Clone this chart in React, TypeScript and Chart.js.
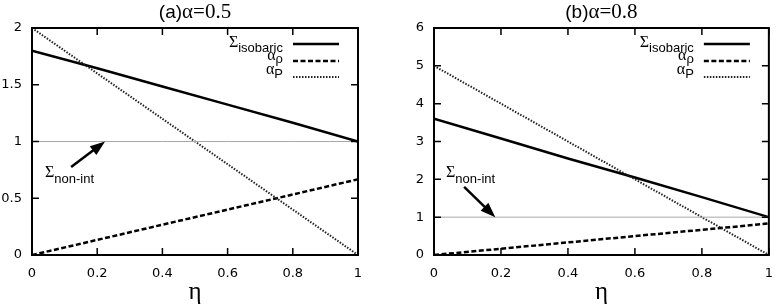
import React, { useEffect, useRef } from 'react';
import { Chart, registerables } from 'chart.js';

Chart.register(...registerables);

// ---- data ----
const eta = [0, 0.2, 0.4, 0.6, 0.8, 1];

const sigmaIsobaricA = [1.8, 1.645, 1.485, 1.325, 1.165, 1.0];
const alphaRhoA = [0, 0.133, 0.267, 0.4, 0.533, 0.667];
const alphaPA = [2, 1.6, 1.2, 0.8, 0.4, 0];
const nonIntA = [1, 1, 1, 1, 1, 1];

const sigmaIsobaricB = [3.6, 3.08, 2.55, 2.05, 1.53, 1.0];
const alphaRhoB = [0, 0.166, 0.333, 0.5, 0.666, 0.833];
const alphaPB = [5, 4, 3, 2, 1, 0];
const nonIntB = [1, 1, 1, 1, 1, 1];

const xTicks = [0, 0.2, 0.4, 0.6, 0.8, 1];
const yTicksA = [0, 0.5, 1, 1.5, 2];
const yTicksB = [0, 1, 2, 3, 4, 5, 6];

// annotation anchors in data coordinates: [tipX, tipY, tailX, tailY, labelX, labelY]
const arrowA = [0.224, 1, 0.12, 0.775, 0.04, 0.687];
const arrowB = [0.183, 1, 0.09, 1.8, 0.036, 2.06];

const SANS = '"Liberation Sans", Arial, sans-serif';
const TICKSANS = '"DejaVu Sans", sans-serif';
const SERIF = '"Liberation Serif", "Times New Roman", serif';

type PanelCfg = {
  key: string;
  titlePrefix: string;
  titleRest: string;
  sigma: number[];
  rho: number[];
  p: number[];
  nonInt: number[];
  yTicks: number[];
  yMax: number;
  arrow: number[];
  yAxisWidth: number;
  padRight: number;
};

const panels: PanelCfg[] = [
  {
    key: 'a', titlePrefix: '(a)', titleRest: 'α=0.5',
    sigma: sigmaIsobaricA, rho: alphaRhoA, p: alphaPA, nonInt: nonIntA,
    yTicks: yTicksA, yMax: 2, arrow: arrowA, yAxisWidth: 32, padRight: 34,
  },
  {
    key: 'b', titlePrefix: '(b)', titleRest: 'α=0.8',
    sigma: sigmaIsobaricB, rho: alphaRhoB, p: alphaPB, nonInt: nonIntB,
    yTicks: yTicksB, yMax: 6, arrow: arrowB, yAxisWidth: 42, padRight: 5,
  },
];

function drawSubText(ctx: CanvasRenderingContext2D, main: string, sub: string, x: number, mainBase: number, subBase: number, align: 'left' | 'right') {
  ctx.font = `13px ${SANS}`;
  const w2 = ctx.measureText(sub).width;
  ctx.font = `16px ${SERIF}`;
  const w1 = ctx.measureText(main).width;
  const start = align === 'right' ? x - w1 - w2 : x;
  ctx.textAlign = 'left';
  ctx.textBaseline = 'alphabetic';
  ctx.fillText(main, start, mainBase);
  ctx.font = `13px ${SANS}`;
  ctx.fillText(sub, start + w1, subBase);
}

function makePlugin(p: PanelCfg) {
  return {
    id: 'gnuplotDecor' + p.key,
    afterDraw(chart: any) {
      const { ctx, chartArea: a, scales } = chart;
      const xs = scales.x;
      const ys = scales.y;
      ctx.save();
      ctx.fillStyle = '#000';
      ctx.strokeStyle = '#000';
      // inward ticks
      ctx.lineWidth = 1.5;
      ctx.beginPath();
      for (const v of xTicks) {
        const px = xs.getPixelForValue(v);
        ctx.moveTo(px, a.bottom); ctx.lineTo(px, a.bottom - 7);
        ctx.moveTo(px, a.top); ctx.lineTo(px, a.top + 7);
      }
      for (const v of p.yTicks) {
        const py = ys.getPixelForValue(v);
        ctx.moveTo(a.left, py); ctx.lineTo(a.left + 7, py);
        ctx.moveTo(a.right, py); ctx.lineTo(a.right - 7, py);
      }
      ctx.stroke();
      // frame
      ctx.lineWidth = 2;
      ctx.strokeRect(a.left, a.top, a.right - a.left, a.bottom - a.top);

      // title
      const cx = (a.left + a.right) / 2;
      ctx.font = `19px ${SANS}`;
      const tw1 = ctx.measureText(p.titlePrefix).width;
      ctx.font = `21px ${SERIF}`;
      const tw2 = ctx.measureText(p.titleRest).width;
      const tx = cx - (tw1 + tw2) / 2;
      ctx.textAlign = 'left';
      ctx.textBaseline = 'alphabetic';
      ctx.font = `19px ${SANS}`;
      ctx.fillText(p.titlePrefix, tx, 18);
      ctx.font = `21px ${SERIF}`;
      ctx.fillText(p.titleRest, tx + tw1, 18);

      // x axis label
      ctx.font = `25px ${SERIF}`;
      ctx.textAlign = 'center';
      ctx.fillText('η', cx, 299);

      // legend
      const tEnd = a.right - 75;
      const s0 = a.right - 65;
      const s1 = a.right - 19;
      const rows = [
        { main: 'Σ', sub: 'isobaric', line: 16, mb: 18.5, sb: 23.5, dash: [] as number[], w: 2.5, c: '#000' },
        { main: 'α', sub: 'ρ', line: 33, mb: 32, sb: 35, dash: [5, 2.5], w: 2.5, c: '#000' },
        { main: 'α', sub: 'P', line: 49, mb: 46.3, sb: 49.7, dash: [1.5, 1.5], w: 2, c: '#222' },
      ];
      for (const r of rows) {
        ctx.fillStyle = '#000';
        drawSubText(ctx, r.main, r.sub, tEnd, a.top + r.mb, a.top + r.sb, 'right');
        ctx.beginPath();
        ctx.setLineDash(r.dash);
        ctx.lineWidth = r.w;
        ctx.strokeStyle = r.c;
        ctx.moveTo(s0, a.top + r.line);
        ctx.lineTo(s1, a.top + r.line);
        ctx.stroke();
      }
      ctx.setLineDash([]);

      // arrow annotation
      const [tipX, tipY, tailX, tailY, labX, labY] = p.arrow;
      const x1 = xs.getPixelForValue(tailX), y1 = ys.getPixelForValue(tailY);
      const x2 = xs.getPixelForValue(tipX), y2 = ys.getPixelForValue(tipY);
      const ang = Math.atan2(y2 - y1, x2 - x1);
      const hl = 15, hw = 5.5;
      const bx = x2 - hl * Math.cos(ang), by = y2 - hl * Math.sin(ang);
      ctx.strokeStyle = '#000';
      ctx.lineWidth = 2.5;
      ctx.beginPath();
      ctx.moveTo(x1, y1);
      ctx.lineTo(bx + 2 * Math.cos(ang), by + 2 * Math.sin(ang));
      ctx.stroke();
      ctx.beginPath();
      ctx.moveTo(x2, y2);
      ctx.lineTo(bx + hw * Math.sin(ang), by - hw * Math.cos(ang));
      ctx.lineTo(bx - hw * Math.sin(ang), by + hw * Math.cos(ang));
      ctx.closePath();
      ctx.fill();

      const lx = xs.getPixelForValue(labX), ly = ys.getPixelForValue(labY);
      drawSubText(ctx, 'Σ', 'non-int', lx, ly, ly + 6, 'left');
      ctx.restore();
    },
  };
}

function Panel({ cfg }: { cfg: PanelCfg }) {
  const ref = useRef<HTMLCanvasElement>(null);
  useEffect(() => {
    if (!ref.current) return;
    const pts = (ys: number[]) => eta.map((x, i) => ({ x, y: ys[i] }));
    const chart = new Chart(ref.current, {
      type: 'line',
      data: {
        datasets: [
          { label: 'non-int', data: pts(cfg.nonInt), borderColor: '#a8a8a8', borderWidth: 1, pointRadius: 0, fill: false },
          { label: 'alphaP', data: pts(cfg.p), borderColor: '#222', borderWidth: 2, borderDash: [1.5, 1.5], pointRadius: 0, fill: false },
          { label: 'alphaRho', data: pts(cfg.rho), borderColor: '#000', borderWidth: 2.5, borderDash: [5, 2.5], pointRadius: 0, fill: false },
          { label: 'sigma', data: pts(cfg.sigma), borderColor: '#000', borderWidth: 2.5, pointRadius: 0, fill: false },
        ],
      },
      options: {
        responsive: false,
        animation: false,
        devicePixelRatio: 1,
        layout: { padding: { left: 0, right: cfg.padRight, top: 28, bottom: 0 } },
        plugins: { legend: { display: false }, title: { display: false }, tooltip: { enabled: false } },
        elements: { line: { tension: 0 } },
        scales: {
          x: {
            type: 'linear', min: 0, max: 1,
            grid: { display: false, drawTicks: false },
            border: { display: false },
            afterBuildTicks: (s: any) => { s.ticks = xTicks.map((v) => ({ value: v })); },
            afterFit: (s: any) => { s.height = 51; },
            ticks: { padding: 11, color: '#000', font: { family: TICKSANS, size: 13 }, callback: (v: any) => String(v), maxRotation: 0, autoSkip: false },
          },
          y: {
            type: 'linear', min: 0, max: cfg.yMax,
            grid: { display: false, drawTicks: false },
            border: { display: false },
            afterBuildTicks: (s: any) => { s.ticks = cfg.yTicks.map((v) => ({ value: v })); },
            afterFit: (s: any) => { s.width = cfg.yAxisWidth; },
            ticks: { padding: 10, color: '#000', font: { family: TICKSANS, size: 13 }, callback: (v: any) => String(v), autoSkip: false },
          },
        },
      },
      plugins: [makePlugin(cfg)],
    } as any);
    return () => chart.destroy();
  }, [cfg]);
  return <canvas ref={ref} width={392} height={306} style={{ display: 'block', width: 392, height: 306 }} />;
}

export default function App() {
  return (
    <div style={{ position: 'fixed', left: 0, top: 0, width: 784, height: 306, background: '#fff', display: 'flex' }}>
      {panels.map((p) => (
        <Panel key={p.key} cfg={p} />
      ))}
    </div>
  );
}
